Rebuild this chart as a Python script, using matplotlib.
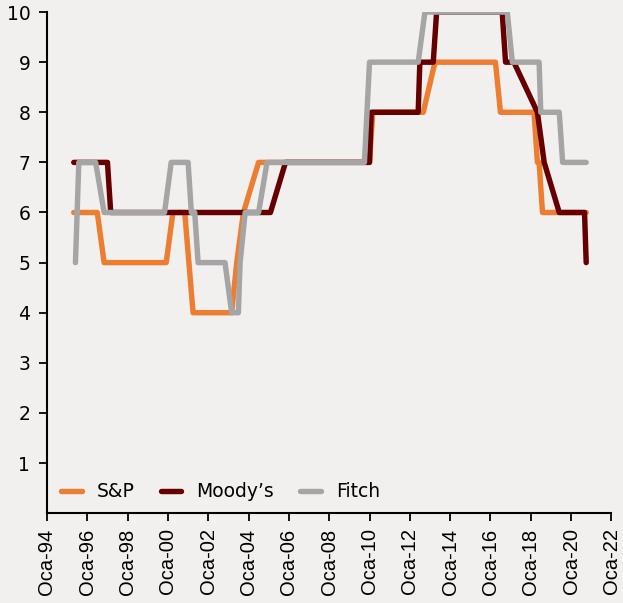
import matplotlib
matplotlib.use("Agg")
import matplotlib.pyplot as plt
import matplotlib.dates as mdates
import pandas as pd

# Rating breakpoints (date, notch score)
sp_dates = ["1995-05", "1996-07", "1996-11", "1999-12", "2000-04", "2000-11",
            "2001-04", "2003-03", "2003-06", "2003-10", "2004-07", "2010-01",
            "2010-03", "2012-09", "2013-04", "2016-04", "2016-07", "2018-03",
            "2018-05", "2018-06", "2018-08", "2020-10"]
sp_values = [6, 6, 5, 5, 6, 6, 4, 4, 5, 6, 7, 7, 8, 8, 9, 9, 8, 8, 7, 7, 6, 6]

moodys_dates = ["1995-05", "1997-01", "1997-03", "2005-02", "2005-11", "2010-01",
                "2010-02", "2012-06", "2012-07", "2013-03", "2013-05", "2016-08",
                "2016-10", "2017-03", "2018-05", "2018-09", "2019-06", "2020-09",
                "2020-10"]
moodys_values = [7, 7, 6, 6, 7, 7, 8, 8, 9, 9, 10, 10, 9, 9, 8, 7, 6, 6, 5]

fitch_dates = ["1995-06", "1995-08", "1996-06", "1996-11", "1999-11", "2000-03",
               "2001-01", "2001-03", "2001-05", "2001-07", "2002-11", "2003-03",
               "2003-07", "2003-08", "2003-11", "2004-07", "2004-12", "2009-10",
               "2010-01", "2012-06", "2012-10", "2016-11", "2017-02", "2018-06",
               "2018-07", "2019-06", "2019-08", "2020-10"]
fitch_values = [5, 7, 7, 6, 6, 7, 7, 6, 6, 5, 5, 4, 4, 5, 6, 6, 7, 7,
                9, 9, 10, 10, 9, 9, 8, 8, 7, 7]

series = [
    ("S&P", sp_dates, sp_values, "#ED7D31"),
    ("Moody\u2019s", moodys_dates, moodys_values, "#660000"),
    ("Fitch", fitch_dates, fitch_values, "#A5A5A5"),
]

BG = "#F2F0EE"

fig = plt.figure(figsize=(6.23, 6.03), dpi=100, facecolor=BG)
ax = fig.add_axes([0.0754, 0.149, 0.906, 0.831], facecolor=BG)

for name, d, v, c in series:
    ax.plot(pd.to_datetime(d), v, color=c, lw=3.9, label=name,
            solid_joinstyle="round", solid_capstyle="round")

ax.set_xlim(pd.Timestamp("1994-01-01"), pd.Timestamp("2022-01-01"))
ax.set_ylim(0, 10)
ax.set_yticks(range(1, 11))

ax.xaxis.set_major_locator(mdates.YearLocator(2, month=1, day=1))
ax.xaxis.set_major_formatter(mdates.DateFormatter("Oca-%y"))

for lab in ax.get_xticklabels():
    lab.set_rotation(90)
    lab.set_family("Liberation Sans")
    lab.set_fontsize(14.5)
for lab in ax.get_yticklabels():
    lab.set_family("DejaVu Sans")
    lab.set_fontsize(13.5)

ax.spines["top"].set_visible(False)
ax.spines["right"].set_visible(False)
ax.spines["left"].set_linewidth(1.5)
ax.spines["bottom"].set_linewidth(1.5)
ax.tick_params(axis="both", direction="out", length=6, width=1.3, colors="black")
ax.tick_params(axis="y", pad=6)
ax.tick_params(axis="x", pad=5)

leg = ax.legend(loc="lower left", ncol=3, frameon=False,
                prop={"family": "DejaVu Sans", "size": 13.5},
                handlelength=1.1, handletextpad=0.8, columnspacing=1.4,
                bbox_to_anchor=(-0.005, -0.01))

fig.savefig("out.png", dpi=100, facecolor=BG)
